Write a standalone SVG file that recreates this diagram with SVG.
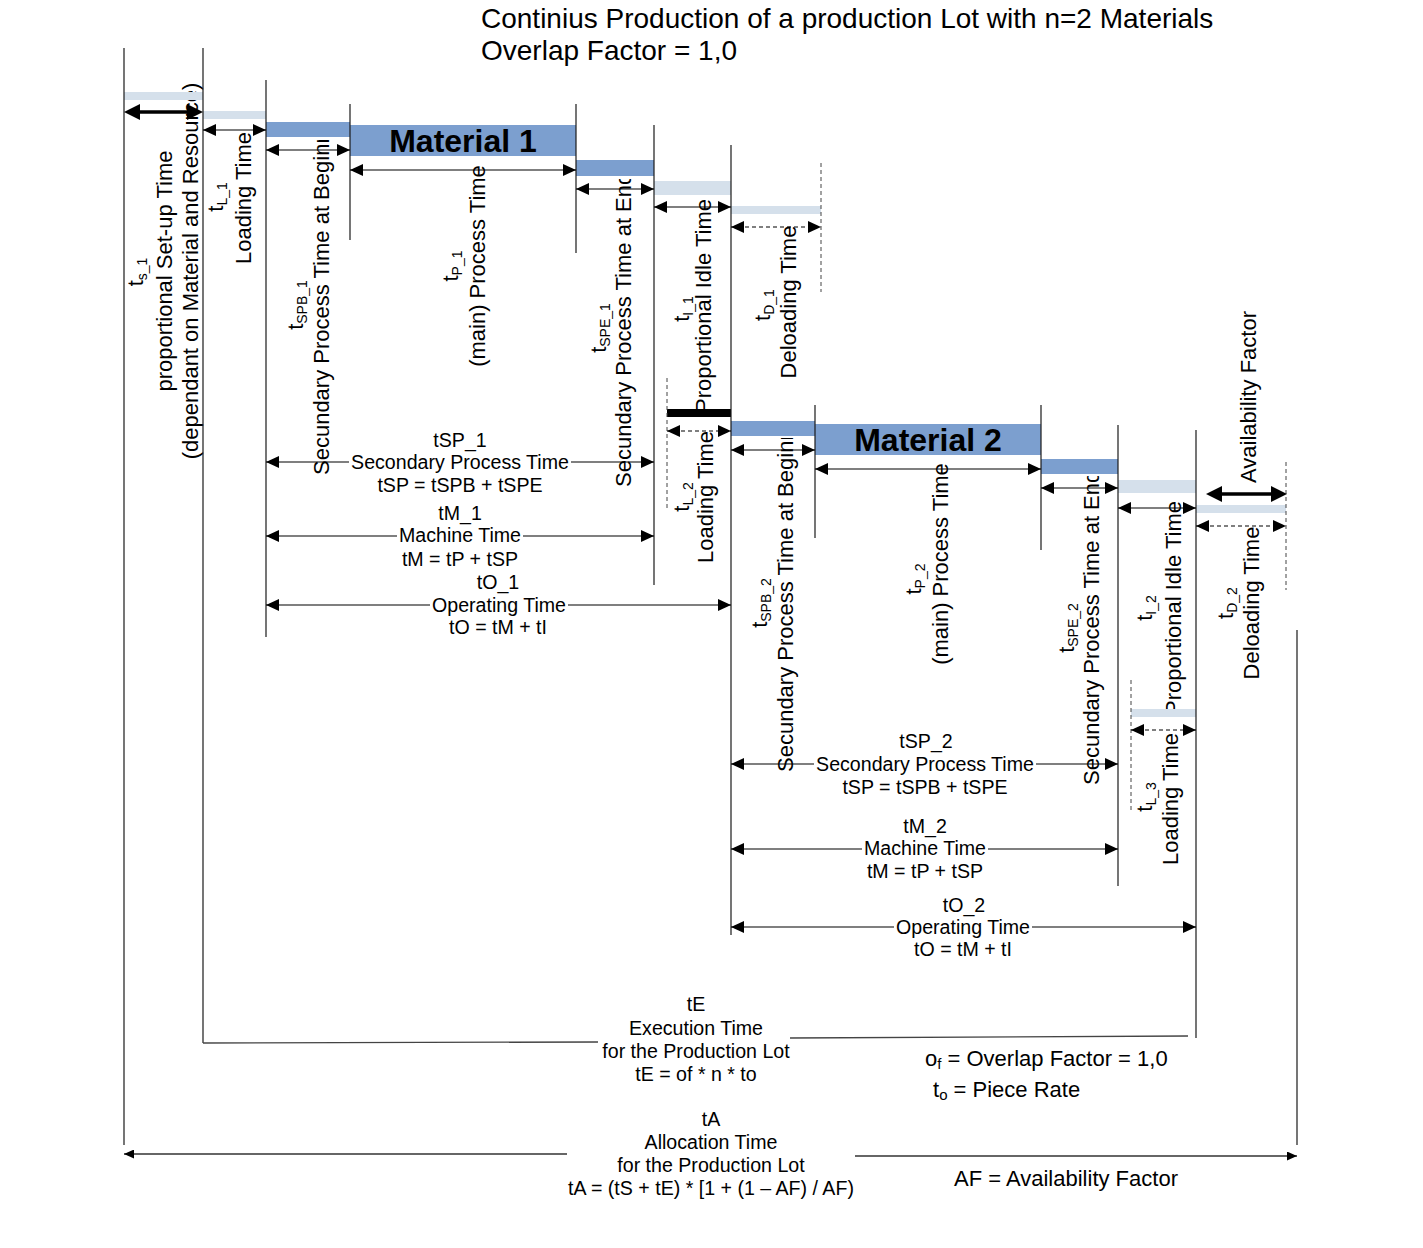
<svg xmlns="http://www.w3.org/2000/svg" width="1423" height="1248" viewBox="0 0 1423 1248">
<style>
text{font-family:"Liberation Sans",Arial,sans-serif;fill:#000}
.r{font-size:22px}
.m{text-anchor:middle}
.s{text-anchor:start}
.h{font-size:19.6px;text-anchor:middle}
.sub{font-size:14px}
.mat{font-size:32px;font-weight:bold;text-anchor:middle}
.note{font-size:22px}
.ttl{font-size:28px}
.vl{stroke:#1a1a1a;stroke-width:1.2;fill:none}
.dl{stroke:#444;stroke-width:1;stroke-dasharray:4 3;fill:none}
.ar{stroke:#000;stroke-width:1.2;fill:none;marker-start:url(#ah);marker-end:url(#ah)}
.ad{stroke:#000;stroke-width:1.2;stroke-dasharray:4 3;fill:none;marker-start:url(#ah);marker-end:url(#ah)}
.ab{stroke:#000;stroke-width:3.5;fill:none;marker-start:url(#ahb);marker-end:url(#ahb)}
.at{stroke:#333;stroke-width:1.3;fill:none;marker-end:url(#aht)}
.el{stroke:#444;stroke-width:1.3;fill:none}
.bb{fill:#7c9fcf}
.lb{fill:#d5e0eb}
.blk{fill:#000}
.wb{fill:#fff}
</style>
<defs>
<marker id="ah" viewBox="0 0 13 12" refX="13" refY="6" markerWidth="13" markerHeight="12" markerUnits="userSpaceOnUse" orient="auto-start-reverse"><path d="M0,0 L13,6 L0,12 z" fill="#000"/></marker>
<marker id="ahb" viewBox="0 0 16 16" refX="12" refY="8" markerWidth="16" markerHeight="16" markerUnits="userSpaceOnUse" orient="auto-start-reverse"><path d="M0,0 L16,8 L0,16 z" fill="#000"/></marker>
<marker id="aht" viewBox="0 0 10 9" refX="10" refY="4.5" markerWidth="10" markerHeight="9" markerUnits="userSpaceOnUse" orient="auto"><path d="M0,0 L10,4.5 L0,9 z" fill="#000"/></marker>
<clipPath id="c1"><rect x="295" y="140" width="55" height="400"/></clipPath>
<clipPath id="c2"><rect x="600" y="179" width="50" height="400"/></clipPath>
<clipPath id="c3"><rect x="770" y="438" width="45" height="400"/></clipPath>
<clipPath id="c4"><rect x="1075" y="476" width="45" height="400"/></clipPath>
</defs>

<g id="title">
<text class="ttl" x="481" y="28">Continius Production of a production Lot with n=2 Materials</text>
<text class="ttl" x="481" y="60">Overlap Factor = 1,0</text>
</g>

<g id="setup1">
<text class="r m" transform="translate(143,272) rotate(-90)">t<tspan class="sub" dy="4">s_1</tspan></text>
<text class="r m" transform="translate(172,271) rotate(-90)">proportional Set-up Time</text>
<text class="r m" transform="translate(198,271) rotate(-90)">(dependant on Material and Resource)</text>
<rect class="lb" x="124" y="92" width="79" height="8"/>
</g>

<g id="load1">
<text class="r m" transform="translate(223,197) rotate(-90)">t<tspan class="sub" dy="4">L_1</tspan></text>
<text class="r m" transform="translate(251,198) rotate(-90)">Loading Time</text>
<rect class="lb" x="203" y="111" width="63" height="8"/>
</g>

<g id="spb1">
<text class="r m" transform="translate(303,305) rotate(-90)">t<tspan class="sub" dy="4">SPB_1</tspan></text>
<g clip-path="url(#c1)"><text class="r s" transform="translate(329,475) rotate(-90)">Secundary Process Time at Beginning</text></g>
<rect class="bb" x="266" y="122" width="84" height="15"/>
</g>

<g id="proc1">
<text class="r m" transform="translate(458,266) rotate(-90)">t<tspan class="sub" dy="4">P_1</tspan></text>
<text class="r m" transform="translate(485,266) rotate(-90)">(main) Process Time</text>
<rect class="bb" x="350" y="125" width="226" height="31"/>
<text class="mat" x="463" y="152">Material 1</text>
</g>

<g id="spe1">
<text class="r m" transform="translate(606,328) rotate(-90)">t<tspan class="sub" dy="4">SPE_1</tspan></text>
<g clip-path="url(#c2)"><text class="r s" transform="translate(631,487) rotate(-90)">Secundary Process Time at End</text></g>
<rect class="bb" x="576" y="160" width="78" height="16"/>
</g>

<g id="idle1">
<text class="r m" transform="translate(689,309) rotate(-90)">t<tspan class="sub" dy="4">I_1</tspan></text>
<text class="r m" transform="translate(711,306) rotate(-90)">Proportional Idle Time</text>
<rect class="lb" x="654" y="181" width="77" height="14"/>
</g>

<g id="deload1">
<text class="r m" transform="translate(770,305) rotate(-90)">t<tspan class="sub" dy="4">D_1</tspan></text>
<text class="r m" transform="translate(796,302) rotate(-90)">Deloading Time</text>
<rect class="lb" x="731" y="206" width="90" height="8"/>
</g>

<g id="load2">
<text class="r m" transform="translate(689,497) rotate(-90)">t<tspan class="sub" dy="4">L_2</tspan></text>
<text class="r m" transform="translate(713,497) rotate(-90)">Loading Time</text>
<rect class="blk" x="667" y="409" width="64" height="8"/>
</g>

<g id="spb2">
<text class="r m" transform="translate(767,603) rotate(-90)">t<tspan class="sub" dy="4">SPB_2</tspan></text>
<g clip-path="url(#c3)"><text class="r s" transform="translate(793,772) rotate(-90)">Secundary Process Time at Beginning</text></g>
<rect class="bb" x="731" y="421" width="84" height="15"/>
</g>

<g id="proc2">
<text class="r m" transform="translate(921,579) rotate(-90)">t<tspan class="sub" dy="4">P_2</tspan></text>
<text class="r m" transform="translate(948,564) rotate(-90)">(main) Process Time</text>
<rect class="bb" x="815" y="424" width="226" height="31"/>
<text class="mat" x="928" y="451">Material 2</text>
</g>

<g id="spe2">
<text class="r m" transform="translate(1074,628) rotate(-90)">t<tspan class="sub" dy="4">SPE_2</tspan></text>
<g clip-path="url(#c4)"><text class="r s" transform="translate(1099,785) rotate(-90)">Secundary Process Time at End</text></g>
<rect class="bb" x="1041" y="459" width="77" height="15"/>
</g>

<g id="idle2">
<text class="r m" transform="translate(1152,608) rotate(-90)">t<tspan class="sub" dy="4">I_2</tspan></text>
<text class="r m" transform="translate(1181,608) rotate(-90)">Proportional Idle Time</text>
<rect class="lb" x="1118" y="480" width="78" height="13"/>
</g>

<g id="load3">
<text class="r m" transform="translate(1152,797) rotate(-90)">t<tspan class="sub" dy="4">L_3</tspan></text>
<text class="r m" transform="translate(1178,799) rotate(-90)">Loading Time</text>
<rect class="lb" x="1131" y="709" width="65" height="8"/>
</g>

<g id="deload2">
<text class="r m" transform="translate(1233,603) rotate(-90)">t<tspan class="sub" dy="4">D_2</tspan></text>
<text class="r m" transform="translate(1259,603) rotate(-90)">Deloading Time</text>
<rect class="lb" x="1196" y="505" width="90" height="8"/>
</g>

<g id="availability">
<text class="r m" transform="translate(1256,397) rotate(-90)">Availability Factor</text>
</g>

<g id="connectors">
<line class="vl" x1="124" y1="48" x2="124" y2="1145"/>
<line class="vl" x1="203" y1="48" x2="203" y2="1043"/>
<line class="vl" x1="266" y1="80" x2="266" y2="637"/>
<line class="vl" x1="350" y1="104" x2="350" y2="240"/>
<line class="vl" x1="576" y1="104" x2="576" y2="253"/>
<line class="vl" x1="654" y1="125" x2="654" y2="585"/>
<line class="vl" x1="731" y1="145" x2="731" y2="935"/>
<line class="vl" x1="815" y1="405" x2="815" y2="538"/>
<line class="vl" x1="1041" y1="405" x2="1041" y2="550"/>
<line class="vl" x1="1118" y1="425" x2="1118" y2="886"/>
<line class="vl" x1="1196" y1="430" x2="1196" y2="1038"/>
<line class="vl" x1="1297" y1="630" x2="1297" y2="1145"/>
<line class="dl" x1="821" y1="163" x2="821" y2="292"/>
<line class="dl" x1="667" y1="378" x2="667" y2="508"/>
<line class="dl" x1="1286" y1="462" x2="1286" y2="590"/>
<line class="dl" x1="1131" y1="680" x2="1131" y2="810"/>

<line class="ab" x1="128" y1="112" x2="199" y2="112"/>
<line class="ar" x1="203" y1="130" x2="266" y2="130"/>
<line class="ar" x1="266" y1="150" x2="350" y2="150"/>
<line class="ar" x1="350" y1="170" x2="576" y2="170"/>
<line class="ar" x1="576" y1="189" x2="654" y2="189"/>
<line class="ar" x1="654" y1="207" x2="731" y2="207"/>
<line class="ad" x1="731" y1="227" x2="821" y2="227"/>
<line class="ad" x1="667" y1="431" x2="731" y2="431"/>
<line class="ar" x1="731" y1="450" x2="815" y2="450"/>
<line class="ar" x1="815" y1="469" x2="1041" y2="469"/>
<line class="ar" x1="1041" y1="488" x2="1118" y2="488"/>
<line class="ar" x1="1118" y1="508" x2="1196" y2="508"/>
<line class="ab" x1="1210" y1="494" x2="1283" y2="494"/>
<line class="ad" x1="1196" y1="526" x2="1286" y2="526"/>
<line class="ad" x1="1131" y1="730" x2="1196" y2="730"/>

<line class="ar" x1="266" y1="462" x2="654" y2="462"/>
<line class="ar" x1="266" y1="536" x2="654" y2="536"/>
<line class="ar" x1="266" y1="605" x2="731" y2="605"/>
<line class="ar" x1="731" y1="764" x2="1118" y2="764"/>
<line class="ar" x1="731" y1="849" x2="1118" y2="849"/>
<line class="ar" x1="731" y1="927" x2="1196" y2="927"/>

<line class="el" x1="203" y1="1043" x2="598" y2="1042"/>
<line class="el" x1="790" y1="1038" x2="1188" y2="1036"/>
<line class="at" x1="567" y1="1154" x2="124" y2="1154"/>
<line class="at" x1="855" y1="1156" x2="1297" y2="1156"/>
</g>

<g id="sp1">
<text class="h" x="460" y="447">tSP_1</text>
<rect class="wb" x="349" y="456" width="222" height="12"/>
<text class="h" x="460" y="469">Secondary Process Time</text>
<text class="h" x="460" y="492">tSP = tSPB + tSPE</text>
</g>
<g id="m1">
<text class="h" x="460" y="520">tM_1</text>
<rect class="wb" x="397" y="530" width="126" height="12"/>
<text class="h" x="460" y="542">Machine Time</text>
<text class="h" x="460" y="566">tM = tP + tSP</text>
</g>
<g id="o1">
<text class="h" x="498" y="589">tO_1</text>
<rect class="wb" x="430" y="599" width="138" height="12"/>
<text class="h" x="499" y="612">Operating Time</text>
<text class="h" x="498" y="634">tO = tM + tI</text>
</g>
<g id="sp2">
<text class="h" x="926" y="748">tSP_2</text>
<rect class="wb" x="814" y="758" width="222" height="12"/>
<text class="h" x="925" y="771">Secondary Process Time</text>
<text class="h" x="925" y="794">tSP = tSPB + tSPE</text>
</g>
<g id="m2">
<text class="h" x="925" y="833">tM_2</text>
<rect class="wb" x="862" y="843" width="126" height="12"/>
<text class="h" x="925" y="855">Machine Time</text>
<text class="h" x="925" y="878">tM = tP + tSP</text>
</g>
<g id="o2">
<text class="h" x="964" y="912">tO_2</text>
<rect class="wb" x="894" y="921" width="138" height="12"/>
<text class="h" x="963" y="934">Operating Time</text>
<text class="h" x="963" y="956">tO = tM + tI</text>
</g>

<g id="exec">
<text class="h" x="696" y="1011">tE</text>
<text class="h" x="696" y="1035">Execution Time</text>
<text class="h" x="696" y="1058">for the Production Lot</text>
<text class="h" x="696" y="1081">tE = of * n * to</text>
</g>
<g id="alloc">
<text class="h" x="711" y="1126">tA</text>
<text class="h" x="711" y="1149">Allocation Time</text>
<text class="h" x="711" y="1172">for the Production Lot</text>
<text class="h" x="711" y="1195">tA = (tS + tE) * [1 + (1 – AF) / AF)</text>
</g>

<g id="notes">
<text class="note" x="925" y="1066">o<tspan font-size="15" dy="3">f</tspan><tspan dy="-3"> = Overlap Factor = 1,0</tspan></text>
<text class="note" x="933" y="1097">t<tspan font-size="15" dy="3">o</tspan><tspan dy="-3"> = Piece Rate</tspan></text>
<text class="note" x="954" y="1186">AF = Availability Factor</text>
</g>
</svg>
